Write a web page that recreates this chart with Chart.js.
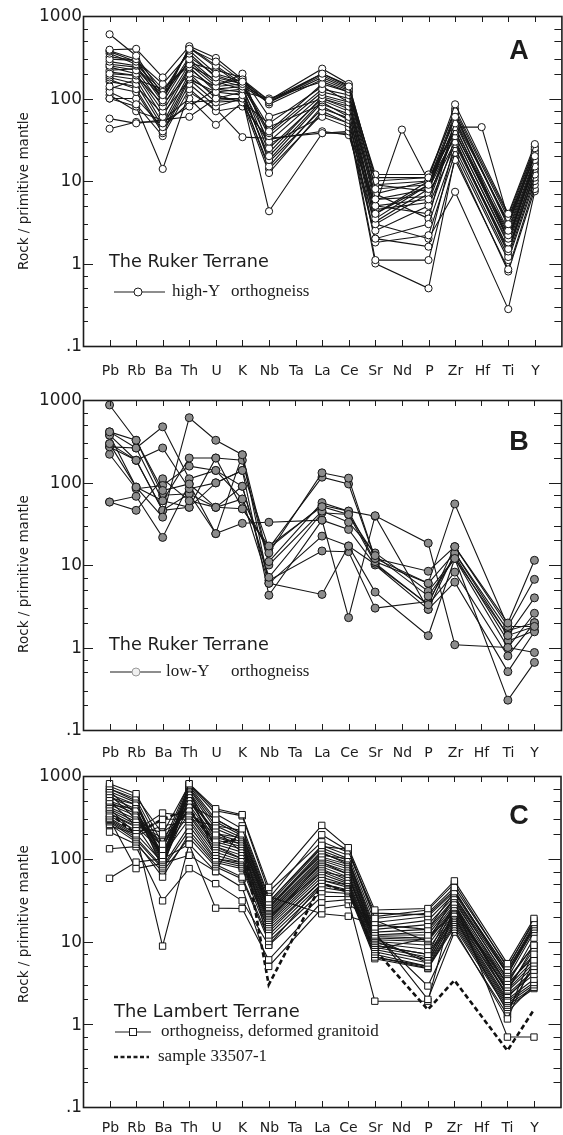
<!DOCTYPE html>
<html><head><meta charset="utf-8">
<script src="https://cdn.jsdelivr.net/npm/chart.js@4.4.1/dist/chart.umd.min.js"></script>
<style>
html,body{margin:0;padding:0;background:#fff;width:563px;height:1135px;overflow:hidden;position:relative}
canvas{position:absolute;left:0}
</style></head><body>
<canvas id="cA" width="566" height="385" style="top:0;width:566px;height:385px"></canvas>
<canvas id="cB" width="566" height="380" style="top:385px;width:566px;height:380px"></canvas>
<canvas id="cC" width="566" height="370" style="top:765px;width:566px;height:370px"></canvas>
<script>
// ---------- data ----------
const ELEMENTS = ['Pb','Rb','Ba','Th','U','K','Nb','Ta','La','Ce','Sr','Nd','P','Zr','Hf','Ti','Y'];
const Y_TICK_VALUES = [0.1, 1, 10, 100, 1000];
const Y_TICK_LABELS = ['.1', '1', '10', '100', '1000'];
const MINOR_STEPS = [2, 3, 5, 7];

// Panel A: Ruker Terrane, high-Y orthogneiss
const RUKER_HIGH_Y = [
 [600,330,110,400,280,160,95,null,200,140,8,null,9,60,null,3,20],
 [390,400,180,430,310,170,95,null,230,150,10,null,11,85,null,4,28],
 [380,300,95,420,250,150,90,null,180,130,12,null,12,70,null,3.5,25],
 [370,280,100,410,240,140,40,null,150,120,6,null,8,50,null,2.5,22],
 [350,260,120,380,200,160,38,null,130,110,5,null,6,45,null,2.2,18],
 [300,290,150,350,180,150,35,null,120,100,4,null,10,40,null,2,15],
 [280,250,90,300,160,130,30,null,110,90,3.5,null,9,35,null,1.8,16],
 [250,220,80,260,140,200,25,null,100,80,3,null,7,30,null,1.5,14],
 [240,200,70,240,120,110,20,null,95,70,2.5,null,5,28,null,1.4,12],
 [200,190,60,230,130,120,18,null,90,60,2,null,3,25,null,1.2,11],
 [190,170,50,200,100,100,15,null,80,55,1.8,null,2.2,22,null,1.1,10],
 [180,150,45,180,110,90,12.5,null,70,50,1.1,null,1.1,18,null,0.85,9],
 [170,130,40,170,90,95,28,null,60,45,1.0,null,0.5,20,null,0.8,8],
 [140,120,38,150,80,100,4.3,null,38,40,2,null,1.6,30,null,1.5,12],
 [120,85,35,130,70,80,32,null,40,36,3,null,2,7.4,null,0.28,7.5],
 [100,80,14,120,75,34,33,null,38,38,5,42,10,45,45,3.5,20],
 [110,70,55,100,48,90,50,null,140,90,7,null,3.5,55,null,2,18],
 [57,50,55,60,100,120,100,null,160,120,9,null,10,65,null,3,24],
 [43,52,52,80,130,140,90,null,200,145,11,null,11,75,null,3.8,26],
 [130,170,130,270,220,180,60,null,100,75,4.5,null,5.5,40,null,2,16],
 [220,230,100,320,190,150,45,null,85,65,3.2,null,8,35,null,1.7,14],
 [260,240,110,280,150,170,85,null,170,125,7,null,10,55,null,3.2,23],
 [320,290,130,250,170,140,22,null,105,85,6,null,6.5,38,null,2.4,19],
 [210,190,85,200,140,150,92,null,190,135,9,null,7.5,65,null,2.8,21],
 [160,140,65,170,120,130,17,null,75,58,5,null,4,32,null,1.3,13],
 [100,100,45,90,95,100,14,null,65,50,4,null,9,45,null,1.9,17]
];

// Panel B: Ruker Terrane, low-Y orthogneiss
const RUKER_LOW_Y = [
 [870,325,80,96,50,48,17,null,51,41,13,null,4.2,12,null,1.4,1.8],
 [411,262,473,111,140,63,14,null,131,113,12,null,8.4,16.7,null,1.98,11.4],
 [375,186,262,84,99,140,16,null,116,96,12,null,6,55,null,1.8,6.7],
 [296,88,38,610,325,217,11,null,57,45,11,null,6,14,null,1.4,4.0],
 [270,262,60,198,198,186,10,null,45,33,14,null,4.8,12,null,1.0,2.6],
 [220,84,92,158,140,90,7.1,null,43,41,10.5,null,3.3,8.2,null,0.79,2.0],
 [58,68,21.6,96,24,32,33,null,35,27,10,null,2.9,6.2,null,0.51,1.55],
 [58,46,111,60,50,63,6,null,22.4,17,4.7,null,1.39,12,null,0.23,0.66],
 [296,186,46,50,99,140,4.3,null,35,2.3,39.6,null,18.4,1.08,null,1.0,0.87],
 [411,325,70,73,24,217,6,null,4.4,17,10.2,null,3.3,16.7,null,1.8,1.8],
 [375,88,60,50,198,48,16,null,53,45,39,null,2.9,14,null,1.6,2.0],
 [270,186,46,73,50,90,6.5,null,14.8,14.5,3.0,null,3.6,13,null,1.2,1.6]
];

// Panel C: Lambert Terrane, orthogneiss & deformed granitoid
const LAMBERT_ORTHO = [
 [807,611,150,807,402,341,45,null,253,136,24,null,25,54,null,5.4,19],
 [750,560,200,780,350,230,33,null,195,125,19,null,22,45,null,5.0,17],
 [700,530,130,760,300,200,30,null,145,110,17,null,20,40,null,4.5,16],
 [650,480,110,720,280,190,28,null,135,100,15,null,18,38,null,4.2,15],
 [600,450,100,700,250,180,26,null,125,95,14,null,16,35,null,4.0,14],
 [550,400,95,650,230,170,25,null,115,90,13,null,14,33,null,3.6,13],
 [500,380,90,600,200,160,24,null,105,85,12,null,12,30,null,3.3,9],
 [480,350,85,550,190,150,23,null,100,80,11.5,null,11,28,null,3.0,7],
 [450,330,120,500,170,140,22,null,95,75,11,null,10.5,26,null,2.8,6],
 [420,300,140,450,160,130,21,null,90,70,10.5,null,10,25,null,2.6,5.5],
 [400,280,160,400,150,120,20,null,85,65,10,null,9,24,null,2.5,5],
 [380,260,180,380,140,110,19,null,80,60,9.5,null,8,22,null,2.3,4.5],
 [350,240,210,350,130,100,18,null,75,55,9,null,7,21,null,2.2,4],
 [330,220,357,330,120,95,17,null,70,52,8.5,null,6.5,20,null,2.0,3.5],
 [310,200,300,300,110,90,16,null,65,50,8,null,6,19,null,1.9,3.2],
 [300,190,250,280,100,85,15,null,60,48,7.5,null,5.5,18,null,1.8,3],
 [290,180,80,250,95,80,14,null,55,45,7,null,5,17,null,1.7,2.8],
 [280,170,76,220,90,76,12,null,50,42,6.5,null,4.8,16,null,1.6,2.7],
 [260,160,60,200,85,60,11,null,45,40,6.2,null,4.7,15,null,1.5,5],
 [210,150,70,180,80,57,10,null,40,38,12,null,2.9,14,null,1.16,6],
 [132,140,31,76,50,31,9,null,35,35,13,null,2.0,13,null,1.3,8],
 [58,91,100,150,25.3,25,6,null,30,32,1.9,null,1.9,30,null,0.7,0.7],
 [250,200,8.8,150,70,45,5,null,25,28,18,null,10,35,null,3.5,9],
 [300,76,88,110,70,250,35,null,21.6,20.2,16,null,14,40,null,4.5,15],
 [600,300,110,300,250,220,30,null,140,130,20,null,24,50,null,4.8,18],
 [700,500,95,800,380,330,40,null,160,120,22,null,21,42,null,4.0,15],
 [350,250,85,450,300,200,27,null,110,100,12,null,13,32,null,3.0,11],
 [450,400,75,650,180,150,25,null,120,85,10,null,6,27,null,2.5,9],
 [550,450,105,500,220,120,20,null,70,60,11,null,5.5,23,null,3.1,6.5],
 [650,350,140,550,140,100,18,null,90,65,9,null,7,29,null,2.1,4.5],
 [400,200,90,700,100,90,13,null,55,48,6.5,null,5,20,null,1.4,3],
 [500,250,120,350,200,180,9,null,50,40,8,null,11,22,null,2.7,8]
];
// Panel C: sample 33507-1 (dashed)
const SAMPLE_33507_1 = [350,200,300,400,150,180,3,null,50,40,8,null,1.5,3.4,null,0.48,1.5];

// ---------- drawing ----------
const SANS = '"DejaVu Sans", "Liberation Sans", sans-serif';
const SERIF = '"Liberation Serif", "DejaVu Serif", serif';
const BOLD = '"Liberation Sans", Arial, sans-serif';
const INK = '#1c1c1c';

function fitSize(ctx, text, font, w) {
  ctx.font = '100px ' + font;
  return 100 * w / ctx.measureText(text).width;
}
function seg(ctx, x1, y1, x2, y2) { ctx.beginPath(); ctx.moveTo(x1, y1); ctx.lineTo(x2, y2); ctx.stroke(); }

function deco(cfg) {
  return {
    id: 'deco' + cfg.letter,
    afterDraw(chart) {
      const { ctx, chartArea: a, scales: { x, y } } = chart;
      ctx.save();
      ctx.strokeStyle = INK; ctx.fillStyle = INK;
      // frame
      ctx.lineWidth = 1.6;
      ctx.strokeRect(a.left + 0.5, a.top + 0.5, a.right - a.left, a.bottom - a.top);
      // category ticks and labels
      ctx.lineWidth = 1;
      ctx.font = '14px ' + SANS; ctx.textAlign = 'center'; ctx.textBaseline = 'middle';
      ELEMENTS.forEach((el, i) => {
        const px = Math.round(x.getPixelForValue(i + 1)) + 0.5;
        seg(ctx, px, a.top, px, a.top + 6);
        seg(ctx, px, a.bottom, px, a.bottom - 6);
        ctx.fillText(el, px, a.bottom + cfg.labelGap);
      });
      // y ticks
      Y_TICK_VALUES.forEach(v => {
        const py = Math.round(y.getPixelForValue(v)) + 0.5;
        seg(ctx, a.left, py, a.left + 10, py);
        seg(ctx, a.right, py, a.right - 12, py);
      });
      Y_TICK_VALUES.slice(0, 4).forEach(d => {
        MINOR_STEPS.forEach(m => {
          const py = Math.round(y.getPixelForValue(d * m)) + 0.5;
          seg(ctx, a.left, py, a.left + 5, py);
          seg(ctx, a.right, py, a.right - 7, py);
        });
      });
      const fs = fitSize(ctx, '1000', SANS, 43);
      ctx.font = fs + 'px ' + SANS; ctx.textAlign = 'right';
      Y_TICK_VALUES.forEach((v, k) => {
        ctx.fillText(Y_TICK_LABELS[k], a.left - 1, y.getPixelForValue(v) + 1);
      });
      // y-axis title
      const t = 'Rock / primitive mantle';
      const ts = fitSize(ctx, t, SANS, 158);
      ctx.save();
      ctx.translate(24, cfg.yTitleY); ctx.rotate(-Math.PI / 2);
      ctx.font = ts + 'px ' + SANS; ctx.textAlign = 'center';
      ctx.fillText(t, 0, 0);
      ctx.restore();
      // panel letter
      ctx.font = 'bold 27px ' + BOLD; ctx.textAlign = 'center';
      ctx.fillText(cfg.letter, 519, cfg.letterY);
      // legend title
      const hs = fitSize(ctx, cfg.title, SANS, cfg.titleW);
      ctx.font = hs + 'px ' + SANS; ctx.textAlign = 'left';
      ctx.fillText(cfg.title, cfg.titleX, cfg.titleY);
      // legend rows
      cfg.rows.forEach(r => {
        ctx.save();
        ctx.strokeStyle = INK;
        if (r.dash) { ctx.setLineDash([4, 2.5]); ctx.lineWidth = 2.6; } else { ctx.lineWidth = 1.2; }
        seg(ctx, r.x1, r.y, r.x2, r.y);
        ctx.setLineDash([]); ctx.lineWidth = 1;
        if (r.marker === 'circle') {
          ctx.beginPath(); ctx.arc(r.mx, r.y, 4, 0, Math.PI * 2);
          ctx.fillStyle = r.mfill; ctx.fill(); ctx.strokeStyle = r.mstroke; ctx.stroke();
        } else if (r.marker === 'rect') {
          ctx.fillStyle = '#fff'; ctx.fillRect(r.mx - 3.5, r.y - 3.5, 7, 7);
          ctx.strokeRect(r.mx - 3.5, r.y - 3.5, 7, 7);
        }
        ctx.restore();
        r.texts.forEach(tx => {
          ctx.font = '17px ' + SERIF; ctx.textAlign = 'left'; ctx.fillStyle = INK;
          ctx.fillText(tx.t, tx.x, r.y);
        });
      });
      ctx.restore();
    }
  };
}

function makeChart(id, series, style, pad, cfg, extra) {
  const datasets = series.map(s => Object.assign({
    data: [null, ...s, null],
    borderColor: '#151515', borderWidth: 1.1, spanGaps: true, tension: 0,
    pointBorderColor: '#151515', pointBorderWidth: 1, pointHoverRadius: 0
  }, style));
  if (extra) extra.forEach(e => datasets.push(Object.assign({ data: [null, ...e.values, null], spanGaps: true, tension: 0 }, e.style)));
  return new Chart(document.getElementById(id), {
    type: 'line',
    data: { labels: ['', ...ELEMENTS, ''], datasets },
    options: {
      responsive: false, animation: false, devicePixelRatio: 1,
      layout: { padding: { left: 83, right: 2, top: pad[0], bottom: pad[1] } },
      scales: {
        x: { display: false },
        y: { type: 'logarithmic', display: false, min: 0.1, max: 1000 }
      },
      plugins: { legend: { display: false }, tooltip: { enabled: false } }
    },
    plugins: [deco(cfg)]
  });
}

makeChart('cA', RUKER_HIGH_Y,
  { pointStyle: 'circle', pointRadius: 3.6, pointBackgroundColor: '#ffffff' },
  [16, 39],
  { letter: 'A', letterY: 52, labelGap: 25, yTitleY: 191,
    title: 'The Ruker Terrane', titleX: 109, titleY: 262, titleW: 160,
    rows: [{ y: 292, x1: 114, x2: 165, marker: 'circle', mx: 138, mfill: '#fff', mstroke: INK,
             texts: [{ t: 'high-Y', x: 172 }, { t: 'orthogneiss', x: 231 }] }] });

makeChart('cB', RUKER_LOW_Y,
  { pointStyle: 'circle', pointRadius: 4, pointBackgroundColor: '#8c8c8c' },
  [15, 35],
  { letter: 'B', letterY: 58, labelGap: 23, yTitleY: 189,
    title: 'The Ruker Terrane', titleX: 109, titleY: 260, titleW: 160,
    rows: [{ y: 287, x1: 110, x2: 161, marker: 'circle', mx: 136, mfill: '#f0f0f0', mstroke: '#999',
             texts: [{ t: 'low-Y', x: 166 }, { t: 'orthogneiss', x: 231 }] }] });

makeChart('cC', LAMBERT_ORTHO,
  { pointStyle: 'rect', pointRadius: 4.5, pointBackgroundColor: '#ffffff' },
  [11, 28],
  { letter: 'C', letterY: 52, labelGap: 21, yTitleY: 159,
    title: 'The Lambert Terrane', titleX: 114, titleY: 247, titleW: 186,
    rows: [
      { y: 267, x1: 115, x2: 151, marker: 'rect', mx: 133, texts: [{ t: 'orthogneiss, deformed granitoid', x: 161 }] },
      { y: 292, x1: 114, x2: 149, dash: true, texts: [{ t: 'sample 33507-1', x: 158 }] }
    ] },
  [{ values: SAMPLE_33507_1, style: { borderColor: '#111', borderWidth: 2.6, borderDash: [5, 3], pointRadius: 0 } }]);
</script>
</body></html>
